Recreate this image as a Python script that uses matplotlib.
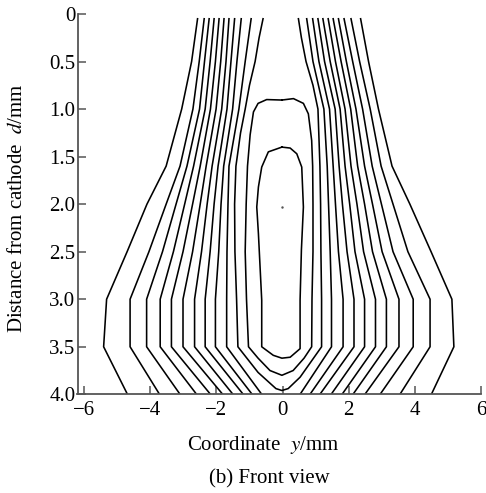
import matplotlib
matplotlib.use('Agg')
import matplotlib.pyplot as plt

plt.rcParams['font.family'] = ['Liberation Serif', 'DejaVu Serif']
plt.rcParams['mathtext.fontset'] = 'stix'

# depth levels (distance from cathode, mm) at which the open contour lines are sampled
d_levels = [0.05, 0.5, 1.0, 1.6, 2.0, 2.5, 3.0, 3.5, 4.0]

# open contour lines on the left side (y coordinate in mm at each depth level), outer -> inner
left_L1 = [-2.57, -2.75, -3.05, -3.52, -4.10, -4.70, -5.32, -5.41, -4.69]
left_L2 = [-2.37, -2.52, -2.71, -3.10, -3.52, -4.04, -4.61, -4.61, -3.72]
left_L3 = [-2.22, -2.36, -2.51, -2.89, -3.22, -3.63, -4.11, -4.11, -3.10]
left_L4 = [-2.07, -2.19, -2.34, -2.69, -2.96, -3.30, -3.70, -3.70, -2.60]
left_L5 = [-1.92, -2.03, -2.18, -2.49, -2.72, -3.01, -3.36, -3.36, -2.18]
left_L6 = [-1.77, -1.87, -2.01, -2.31, -2.49, -2.72, -3.01, -3.01, -1.81]
left_L7 = [-1.62, -1.71, -1.84, -2.13, -2.28, -2.45, -2.66, -2.66, -1.50]
left_L8 = [-1.45, -1.56, -1.68, -1.95, -2.07, -2.19, -2.34, -2.34, -1.19]
left_L9 = [-1.25, -1.38, -1.51, -1.78, -1.86, -1.93, -2.03, -2.03, -0.92]
left_L10 = [-0.95, -1.13, -1.32, -1.62, -1.65, -1.68, -1.69, -1.69, -0.63]

# open contour lines on the right side, inner -> outer
right_R1 = [0.73, 0.92, 1.25, 1.35, 1.39, 1.44, 1.48, 1.48, 0.53]
right_R2 = [0.91, 1.10, 1.42, 1.53, 1.60, 1.69, 1.83, 1.83, 0.83]
right_R3 = [1.07, 1.27, 1.59, 1.71, 1.81, 1.95, 2.16, 2.16, 1.13]
right_R4 = [1.22, 1.44, 1.74, 1.89, 2.03, 2.19, 2.48, 2.48, 1.47]
right_R5 = [1.38, 1.60, 1.89, 2.07, 2.25, 2.45, 2.81, 2.81, 1.80]
right_R6 = [1.53, 1.77, 2.06, 2.27, 2.48, 2.72, 3.14, 3.14, 2.13]
right_R7 = [1.69, 1.93, 2.22, 2.48, 2.72, 3.01, 3.52, 3.52, 2.49]
right_R8 = [1.86, 2.12, 2.42, 2.71, 2.99, 3.34, 3.95, 3.95, 2.95]
right_R9 = [2.07, 2.33, 2.65, 2.98, 3.34, 3.79, 4.46, 4.46, 3.55]
right_R10 = [2.36, 2.60, 2.90, 3.31, 3.85, 4.49, 5.12, 5.18, 4.50]

# U-shaped contour opening to the top
u_y = [-0.59, -0.71, -0.83, -1.00, -1.13, -1.27, -1.41, -1.45, -1.44, -1.39, -1.35,
       -0.74, -0.20, -0.02, 0.17, 0.53, 1.18, 1.18, 1.16, 1.15, 1.13, 1.07, 0.92, 0.71, 0.57, 0.48]
u_d = [0.05, 0.25, 0.5, 0.75, 1.0, 1.25, 1.6, 2.0, 2.5, 3.0, 3.5,
       3.77, 3.94, 3.96, 3.94, 3.82, 3.5, 3.0, 2.5, 2.0, 1.6, 1.0, 0.75, 0.5, 0.25, 0.05]

# closed contour (outer loop)
loop2_y = [-0.02, -0.48, -0.74, -0.88, -0.98, -1.06, -1.10, -1.13, -1.09, -1.03, -0.74, -0.38,
           -0.02, 0.32, 0.65, 0.88, 0.89, 0.92, 0.92, 0.91, 0.88, 0.78, 0.63, 0.33, -0.02]
loop2_d = [0.905, 0.90, 0.94, 1.03, 1.27, 1.60, 2.00, 2.50, 3.00, 3.50, 3.62, 3.75,
           3.80, 3.75, 3.62, 3.50, 3.00, 2.50, 2.00, 1.60, 1.33, 1.05, 0.94, 0.89, 0.905]

# closed contour (inner loop)
loop1_y = [-0.02, -0.43, -0.63, -0.73, -0.78, -0.73, -0.63, -0.63, -0.28, -0.02, 0.23,
           0.53, 0.53, 0.57, 0.63, 0.58, 0.43, 0.23, -0.02]
loop1_d = [1.40, 1.45, 1.61, 1.82, 2.03, 2.31, 3.01, 3.50, 3.59, 3.62, 3.61,
           3.52, 3.01, 2.48, 2.03, 1.61, 1.47, 1.41, 1.40]

# small dot at the centre
dot_y = [-0.01]
dot_d = [2.03]

x_ticks = [-6, -4, -2, 0, 2, 4, 6]
y_ticks = [0, 0.5, 1.0, 1.5, 2.0, 2.5, 3.0, 3.5, 4.0]
y_tick_labels = ['0', '0.5', '1.0', '1.5', '2.0', '2.5', '3.0', '3.5', '4.0']

W, H = 486, 493
fig = plt.figure(figsize=(W / 100, H / 100), dpi=100)
ax = fig.add_axes([77.5 / W, 1 - 394.3 / H, (481 - 77.5) / W, (394.3 - 14) / H])

line_kw = dict(color='black', lw=1.15, solid_joinstyle='round')
open_lines = [left_L1, left_L2, left_L3, left_L4, left_L5, left_L6, left_L7, left_L8,
              left_L9, left_L10, right_R1, right_R2, right_R3, right_R4, right_R5,
              right_R6, right_R7, right_R8, right_R9, right_R10]
for xs in open_lines:
    ax.plot(xs, d_levels, **line_kw)
ax.plot(u_y, u_d, **line_kw)
ax.plot(loop2_y, loop2_d, **line_kw)
ax.plot(loop1_y, loop1_d, **line_kw)
ax.plot(dot_y, dot_d, marker='.', ms=1.5, color='#555555', ls='none')

ax.set_xlim(-6.2, 6)
ax.set_ylim(4.0, 0)
ax.spines['top'].set_visible(False)
ax.spines['right'].set_visible(False)
for s in ('left', 'bottom'):
    ax.spines[s].set_color('#555555')
    ax.spines[s].set_linewidth(1.3)

ax.set_xticks(x_ticks)
ax.set_yticks(y_ticks)
ax.set_yticklabels(y_tick_labels)
ax.tick_params(axis='both', direction='in', length=6, width=1.1, color='#555555',
               labelsize=15, labelcolor='black')
ax.tick_params(axis='y', pad=1.5)
ax.tick_params(axis='x', pad=4.5)

fig.text(263 / W, 1 - 445 / H, 'Coordinate  $y$/mm', ha='center', va='center', fontsize=15)
fig.text(17.5 / W, 1 - 208.5 / H, 'Distance from cathode  $d$/mm', rotation=90,
         ha='center', va='center', fontsize=15)
fig.text(269 / W, 1 - 479 / H, '(b) Front view', ha='center', va='center', fontsize=15)

fig.savefig('out.png', dpi=100)
